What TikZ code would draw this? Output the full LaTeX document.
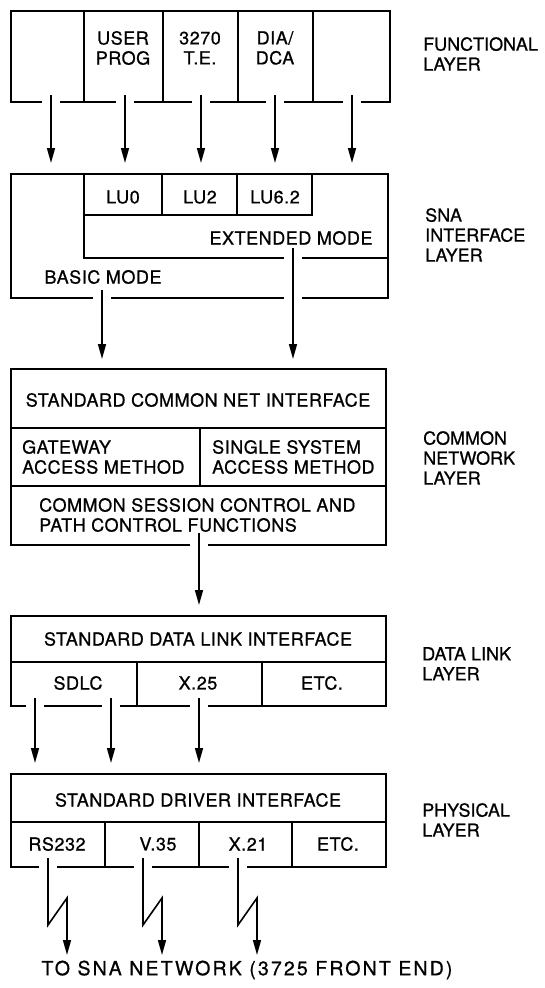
\documentclass[tikz,border=0pt]{standalone}
\usepackage{fontspec}
\setmainfont{TeX Gyre Heros}[FakeBold=0.8]
\newfontfamily\boxfont{TeX Gyre Heros}[FakeBold=0.8, LetterSpace=3]
\newfontfamily\footfont{TeX Gyre Heros}[FakeBold=0.8, LetterSpace=11]
\usetikzlibrary{arrows.meta}
\begin{document}
\begin{tikzpicture}[x=1pt,y=-1pt,
  outline/.style={line width=2.6pt, line join=miter},
  divider/.style={line width=1.8pt},
  arr/.style={line width=1.6pt, -{Triangle[width=8pt,length=15pt]}},
  lbl/.style={font=\boxfont\fontsize{18}{20}\selectfont, inner sep=0pt},
  side/.style={font=\fontsize{18}{20}\selectfont, inner sep=0pt, align=left, anchor=north west}]
\useasboundingbox (0,0) rectangle (544,988);

% ---------- functional layer ----------
\draw[outline] (42,102) -- (11,102) -- (11,11) -- (390,11) -- (390,102) -- (361,102)
  (60,102) -- (116,102) (134,102) -- (192,102) (210,102) -- (266,102) (284,102) -- (343,102);
\draw[divider] (84,11) -- (84,102) (163,11) -- (163,102) (238,11) -- (238,102) (313,11) -- (313,102);
\node[lbl, align=center] (userprog) at (123,48) {USER\\PROG};
\node[lbl, align=center] (te) at (200,48) {3270\\T.E.};
\node[lbl, align=center] (dia) at (275,48) {DIA/\\DCA};
\node[side] (funlayer) at (423,37) {FUNCTIONAL\\LAYER};

\foreach \i/\x in {1/51,2/125,3/201,4/275,5/352}{
  \coordinate (fs\i) at (\x,95);
  \coordinate (fe\i) at (\x,163);
  \draw[arr] (fs\i) -- (fe\i);
}

% ---------- SNA interface layer ----------
\draw[outline] (93,298) -- (11,298) -- (11,174) -- (388,174) -- (388,298) -- (302,298)
  (111,298) -- (284,298);
\draw[divider] (84,174) -- (84,258) -- (284,258) (302,258) -- (388,258);
\draw[divider] (84,215) -- (312,215) -- (312,174) (162,174) -- (162,215) (237,174) -- (237,215);
\node[lbl] (lu0) at (123,197) {LU0};
\node[lbl] (lu2) at (200,197) {LU2};
\node[lbl] (lu62) at (275,197) {LU6.2};
\node[lbl] (ext) at (291,238) {EXTENDED MODE};
\node[lbl] (basic) at (103,277) {BASIC MODE};
\node[side] (snalayer) at (425,208) {SNA\\INTERFACE\\LAYER};

\coordinate (bs) at (102,290);
\coordinate (be) at (102,359);
\coordinate (es) at (293,248);
\coordinate (ee) at (293,359);
\draw[arr] (bs) -- (be);
\draw[arr] (es) -- (ee);

% ---------- common network layer ----------
\draw[outline] (190,545) -- (11,545) -- (11,369) -- (386,369) -- (386,545) -- (208,545);
\draw[divider] (11,428) -- (386,428) (11,486) -- (386,486) (200,428) -- (200,486);
\node[lbl] (scni) at (198,400) {STANDARD COMMON NET INTERFACE};
\node[lbl, align=left, anchor=west] (gam) at (22,457) {GATEWAY\\ACCESS METHOD};
\node[lbl, align=left, anchor=west] (ssam) at (212,457) {SINGLE SYSTEM\\ACCESS METHOD};
\node[lbl, align=left, anchor=west] (cscp) at (39,515) {COMMON SESSION CONTROL AND\\PATH CONTROL FUNCTIONS};
\node[side] (cnlayer) at (423,431) {COMMON\\NETWORK\\LAYER};

\coordinate (cs) at (199,533);
\coordinate (ce) at (199,605);
\draw[arr] (cs) -- (ce);

% ---------- data link layer ----------
\draw[outline] (26,706) -- (11,706) -- (11,616) -- (386,616) -- (386,706) -- (208,706)
  (44,706) -- (102,706) (120,706) -- (190,706);
\draw[divider] (11,662) -- (386,662) (137,662) -- (137,706) (262,662) -- (262,706);
\node[lbl] (sdli) at (198,639) {STANDARD DATA LINK INTERFACE};
\node[lbl] (sdlc) at (78,683) {SDLC};
\node[lbl] (x25) at (198,683) {X.25};
\node[lbl] (etc1) at (322,683) {ETC.};
\node[side] (dllayer) at (422,647) {DATA LINK\\LAYER};

\foreach \i/\x in {1/35,2/111,3/199}{
  \coordinate (ds\i) at (\x,698);
  \coordinate (de\i) at (\x,763);
  \draw[arr] (ds\i) -- (de\i);
}

% ---------- physical layer ----------
\draw[outline] (39,867) -- (11,867) -- (11,774) -- (386,774) -- (386,867) -- (247,867)
  (57,867) -- (134,867) (152,867) -- (229,867);
\draw[divider] (11,822) -- (386,822) (105,822) -- (105,867) (199,822) -- (199,867) (292,822) -- (292,867);
\node[lbl] (sdi) at (198,800) {STANDARD DRIVER INTERFACE};
\node[lbl] (rs232) at (57,844) {RS232};
\node[lbl] (v35) at (158,844) {V.35};
\node[lbl] (x21) at (248,844) {X.21};
\node[lbl] (etc2) at (338,844) {ETC.};
\node[side] (phylayer) at (422,803) {PHYSICAL\\LAYER};

% lightning-bolt links to the network
\foreach \i/\x in {1/48,2/143,3/238}{
  \coordinate (ps\i) at (\x,858);
  \coordinate (pa\i) at (\x,925);
  \coordinate (pb\i) at (\x+19,898);
  \coordinate (pe\i) at (\x+19,955);
  \draw[arr, line join=miter] (ps\i) -- (pa\i) -- (pb\i) -- (pe\i);
}
\node[font=\footfont\fontsize{19.5}{21}\selectfont, inner sep=0pt] (sna) at (247,970) {TO SNA NETWORK (3725 FRONT END)};
\end{tikzpicture}
\end{document}
